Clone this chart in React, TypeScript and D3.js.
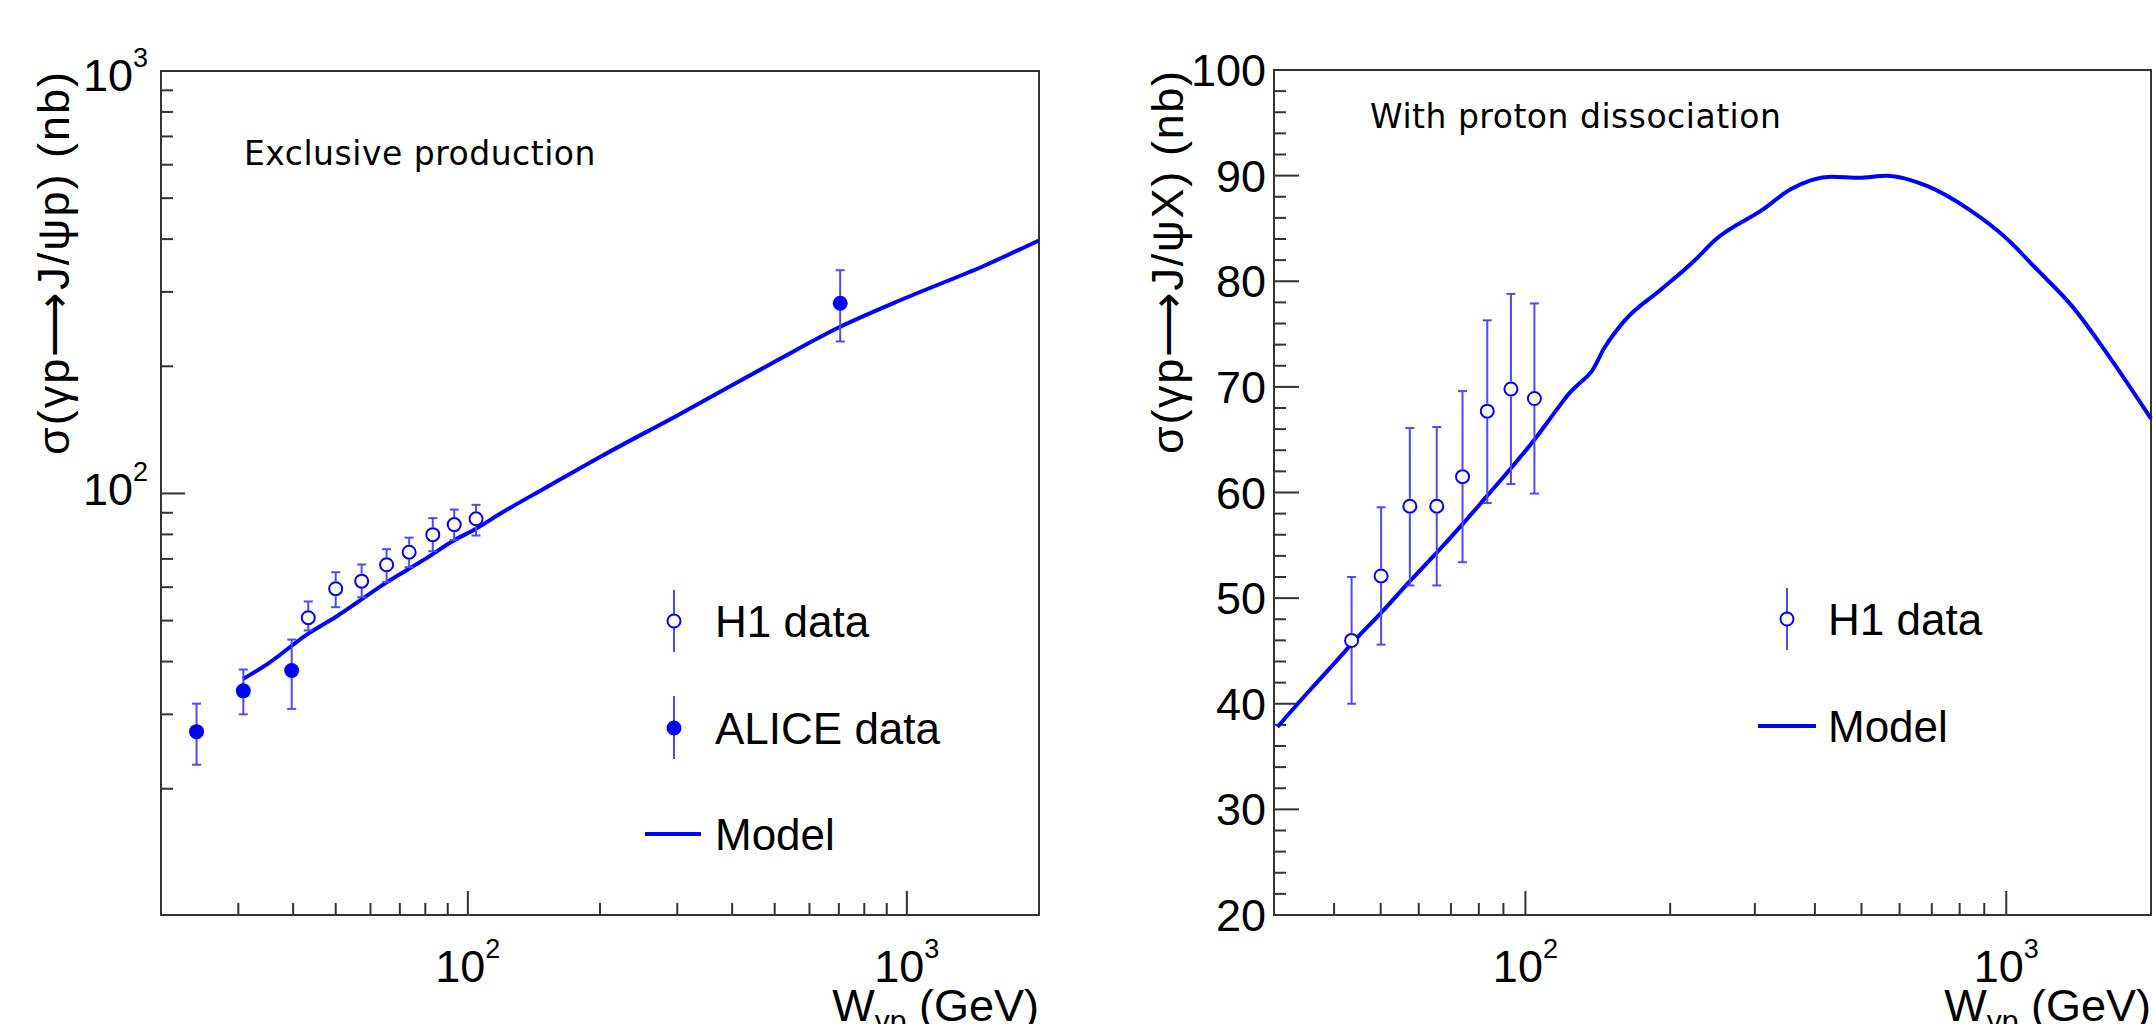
import React from "react";
import * as d3 from "d3";

// ---------- data ----------
const h1ExclW = [43.3, 50.0, 57.3, 65.3, 73.5, 83.2, 93.1, 104.4];
const h1ExclSigma = [50.8, 59.5, 62.0, 67.8, 72.6, 79.9, 84.4, 87.1];
const h1ExclLo = [47.4, 53.8, 56.8, 61.7, 66.9, 73.0, 77.6, 79.5];
const h1ExclHi = [55.5, 65.1, 67.9, 73.8, 78.6, 87.4, 91.6, 94.0];

const aliceW = [24.1, 30.8, 39.7, 705];
const aliceSigma = [27.3, 34.1, 38.1, 281.9];
const aliceLo = [22.8, 30.0, 30.9, 229];
const aliceHi = [31.8, 38.3, 45.1, 337.6];

const modelExclW = [30.8, 35, 43.3, 50, 65.3, 80, 93.1, 104.4, 118.4, 150, 200, 300, 500, 705, 1000, 1500, 2000];
const modelExclSigma = [36.4, 39.5, 46.6, 51, 61.6, 70, 77.5, 82.5, 89.5, 103, 122, 153, 205, 248, 291, 346, 397];

const h1DissW = [43.5, 50.1, 57.5, 65.4, 74.0, 83.3, 93.3, 104.4];
const h1DissSigma = [46.0, 52.1, 58.7, 58.7, 61.5, 67.7, 69.8, 68.9];
const h1DissLo = [40.0, 45.6, 51.2, 51.2, 53.4, 59.0, 60.8, 59.9];
const h1DissHi = [52.0, 58.6, 66.1, 66.2, 69.6, 76.3, 78.8, 77.9];

const modelDissW = [30.5, 35, 40, 45, 50.1, 57.5, 65.4, 74, 83.3, 93.3, 104.4, 116, 124, 130, 137, 146, 161, 190, 224, 248, 312, 356, 433, 494, 564, 686, 836, 987, 1165, 1373, 1618, 2000];
const modelDissSigma = [37.8, 40.9, 43.8, 46.4, 48.6, 51.6, 54.3, 57.0, 59.7, 62.3, 65.0, 67.8, 69.5, 70.4, 71.4, 73.7, 76.3, 79.1, 81.9, 83.9, 86.8, 88.7, 89.9, 89.8, 90.0, 89.0, 86.8, 84.3, 81.0, 77.6, 73.2, 67.0];

const xMinorTicks = [20, 30, 40, 50, 60, 70, 80, 90, 200, 300, 400, 500, 600, 700, 800, 900];
const xMajorTicks = [100, 1000];
const yLogMinor = [20, 30, 40, 50, 60, 70, 80, 90, 200, 300, 400, 500, 600, 700, 800, 900];
const yLogMajor = [100, 1000];
const yLinMajor = [20, 30, 40, 50, 60, 70, 80, 90, 100];

const BLUE = "#0000ff";
const BAR = "#4a4aff";
const AX = "#333333";
const SANS = "'Liberation Sans', Arial, Helvetica, sans-serif";
const TFONT = "'DejaVu Sans', Verdana, sans-serif";

function expLabel(v: number) {
  return String(Math.round(Math.log10(v)));
}

export default function App() {
  const L = { x0: 161, x1: 1039, y0: 71, y1: 915 };
  const R = { x0: 1274, x1: 2151, y0: 70, y1: 915 };
  const xL = d3.scaleLog().domain([20, 2000]).range([L.x0, L.x1]);
  const yL = d3.scaleLog().domain([10.05, 1000]).range([L.y1, L.y0]);
  const xR = d3.scaleLog().domain([30, 2000]).range([R.x0, R.x1]);
  const yR = d3.scaleLinear().domain([20, 100]).range([R.y1, R.y0]);

  const lineL = d3
    .line<number>()
    .x((_, i) => xL(modelExclW[i]))
    .y((d) => yL(d))
    .curve(d3.curveMonotoneX);
  const lineR = d3
    .line<number>()
    .x((_, i) => xR(modelDissW[i]))
    .y((d) => yR(d))
    .curve(d3.curveMonotoneX);

  const r = 7.5;
  const cap = 4.5;

  const errBar = (x: number, y: number, yHi: number, yLo: number, key: string, open: boolean) => {
    const gap = open ? r : 0;
    return (
      <g key={key} stroke={BAR} strokeWidth={2}>
        {yHi < y - gap && <line x1={x} x2={x} y1={y - gap} y2={yHi} />}
        {yLo > y + gap && <line x1={x} x2={x} y1={y + gap} y2={yLo} />}
        <line x1={x - cap} x2={x + cap} y1={yHi} y2={yHi} />
        <line x1={x - cap} x2={x + cap} y1={yLo} y2={yLo} />
      </g>
    );
  };

  const xAxis = (P: any, xs: any, minors: number[], key: string) => (
    <g key={key}>
      {minors
        .filter((v) => xs(v) > P.x0 + 1 && xs(v) < P.x1 - 1)
        .map((v) => (
          <line key={"m" + v} x1={xs(v)} x2={xs(v)} y1={P.y1} y2={P.y1 - 12} stroke={AX} strokeWidth={2} />
        ))}
      {xMajorTicks.map((v) => (
        <g key={"M" + v}>
          <line x1={xs(v)} x2={xs(v)} y1={P.y1} y2={P.y1 - 24} stroke={AX} strokeWidth={2} />
          <text x={xs(v)} y={P.y1 + 67} textAnchor="middle" fontFamily={SANS} fontSize={45} fill="#000">
            10
            <tspan dy={-24} fontSize={27}>
              {expLabel(v)}
            </tspan>
          </text>
        </g>
      ))}
      <text x={P.x1} y={1021} textAnchor="end" fontFamily={SANS} fontSize={45} fill="#000">
        W
        <tspan dy={10} fontSize={30}>
          γp
        </tspan>
        <tspan dy={-10}> (GeV)</tspan>
      </text>
    </g>
  );

  const yTitle = (x: number, y: number, label: string) => (
    <text
      transform={`translate(${x}, ${y}) rotate(-90)`}
      textAnchor="end"
      fontFamily={SANS}
      fontSize={45}
      fill="#000"
      textLength={383}
      lengthAdjust="spacing"
    >
      {label}
    </text>
  );

  return (
    <svg
      width={2153}
      height={1024}
      style={{ position: "absolute", left: 0, top: 0, background: "#fff" }}
    >
      <rect x={0} y={0} width={2153} height={1024} fill="#fff" />

      {/* ---------------- LEFT PANEL ---------------- */}
      <g>
        <rect x={L.x0} y={L.y0} width={L.x1 - L.x0} height={L.y1 - L.y0} fill="none" stroke={AX} strokeWidth={2} />
        {xAxis(L, xL, xMinorTicks, "xl")}
        {yLogMinor.map((v) => (
          <line key={"ylm" + v} x1={L.x0} x2={L.x0 + 12} y1={yL(v)} y2={yL(v)} stroke={AX} strokeWidth={2} />
        ))}
        {yLogMajor.map((v) => (
          <g key={"ylM" + v}>
            <line x1={L.x0} x2={L.x0 + 24} y1={yL(v)} y2={yL(v)} stroke={AX} strokeWidth={2} />
            <text x={L.x0 - 13} y={yL(v) + (v === 1000 ? 20 : 12)} textAnchor="end" fontFamily={SANS} fontSize={45} fill="#000">
              10
              <tspan dy={-24} fontSize={27}>
                {expLabel(v)}
              </tspan>
            </text>
          </g>
        ))}
        {yTitle(69, 72, "σ(γp⟶J/ψp) (nb)")}
        <text x={244} y={165} fontFamily={TFONT} fontSize={33} letterSpacing={0.5} fill="#000">
          Exclusive production
        </text>

        <path d={lineL(modelExclSigma) || ""} fill="none" stroke={BLUE} strokeWidth={4} />

        {h1ExclW.map((w, i) =>
          errBar(xL(w), yL(h1ExclSigma[i]), yL(h1ExclHi[i]), yL(h1ExclLo[i]), "he" + i, true)
        )}
        {h1ExclW.map((w, i) => (
          <circle key={"hc" + i} cx={xL(w)} cy={yL(h1ExclSigma[i])} r={r - 1} fill="#fff" stroke={BLUE} strokeWidth={2} />
        ))}
        {aliceW.map((w, i) =>
          errBar(xL(w), yL(aliceSigma[i]), yL(aliceHi[i]), yL(aliceLo[i]), "ae" + i, false)
        )}
        {aliceW.map((w, i) => (
          <circle key={"ac" + i} cx={xL(w)} cy={yL(aliceSigma[i])} r={r} fill={BLUE} />
        ))}

        {/* legend */}
        <line x1={674} x2={674} y1={590} y2={652} stroke={BAR} strokeWidth={2} />
        <circle cx={674} cy={621} r={r - 1} fill="#fff" stroke={BLUE} strokeWidth={2} />
        <text x={715} y={637} fontFamily={SANS} fontSize={44} fill="#000">
          H1 data
        </text>
        <line x1={674} x2={674} y1={696} y2={759} stroke={BAR} strokeWidth={2} />
        <circle cx={674} cy={728} r={r} fill={BLUE} />
        <text x={715} y={744} fontFamily={SANS} fontSize={44} fill="#000">
          ALICE data
        </text>
        <line x1={645} x2={701} y1={834} y2={834} stroke={BLUE} strokeWidth={4} />
        <text x={715} y={850} fontFamily={SANS} fontSize={44} fill="#000">
          Model
        </text>
      </g>

      {/* ---------------- RIGHT PANEL ---------------- */}
      <g>
        <rect x={R.x0} y={R.y0} width={R.x1 - R.x0} height={R.y1 - R.y0} fill="none" stroke={AX} strokeWidth={2} />
        {xAxis(R, xR, xMinorTicks, "xr")}
        {d3.range(20, 100.01, 2).map((v) => (
          <line
            key={"yrm" + v}
            x1={R.x0}
            x2={R.x0 + (v % 10 === 0 ? 25 : 12)}
            y1={yR(v)}
            y2={yR(v)}
            stroke={AX}
            strokeWidth={2}
          />
        ))}
        {yLinMajor.map((v) => (
          <text key={"yrl" + v} x={R.x0 - 8} y={yR(v) + 16} textAnchor="end" fontFamily={SANS} fontSize={45} fill="#000">
            {v}
          </text>
        ))}
        {yTitle(1183, 71, "σ(γp⟶J/ψX) (nb)")}
        <text x={1370} y={128} fontFamily={TFONT} fontSize={33} letterSpacing={0.5} fill="#000">
          With proton dissociation
        </text>

        <path d={lineR(modelDissSigma) || ""} fill="none" stroke={BLUE} strokeWidth={4} />

        {h1DissW.map((w, i) =>
          errBar(xR(w), yR(h1DissSigma[i]), yR(h1DissHi[i]), yR(h1DissLo[i]), "hd" + i, true)
        )}
        {h1DissW.map((w, i) => (
          <circle key={"hdc" + i} cx={xR(w)} cy={yR(h1DissSigma[i])} r={r - 1} fill="#fff" stroke={BLUE} strokeWidth={2} />
        ))}

        {/* legend */}
        <line x1={1787} x2={1787} y1={588} y2={650} stroke={BAR} strokeWidth={2} />
        <circle cx={1787} cy={619} r={r - 1} fill="#fff" stroke={BLUE} strokeWidth={2} />
        <text x={1828} y={635} fontFamily={SANS} fontSize={44} fill="#000">
          H1 data
        </text>
        <line x1={1758} x2={1816} y1={726} y2={726} stroke={BLUE} strokeWidth={4} />
        <text x={1828} y={742} fontFamily={SANS} fontSize={44} fill="#000">
          Model
        </text>
      </g>
    </svg>
  );
}
